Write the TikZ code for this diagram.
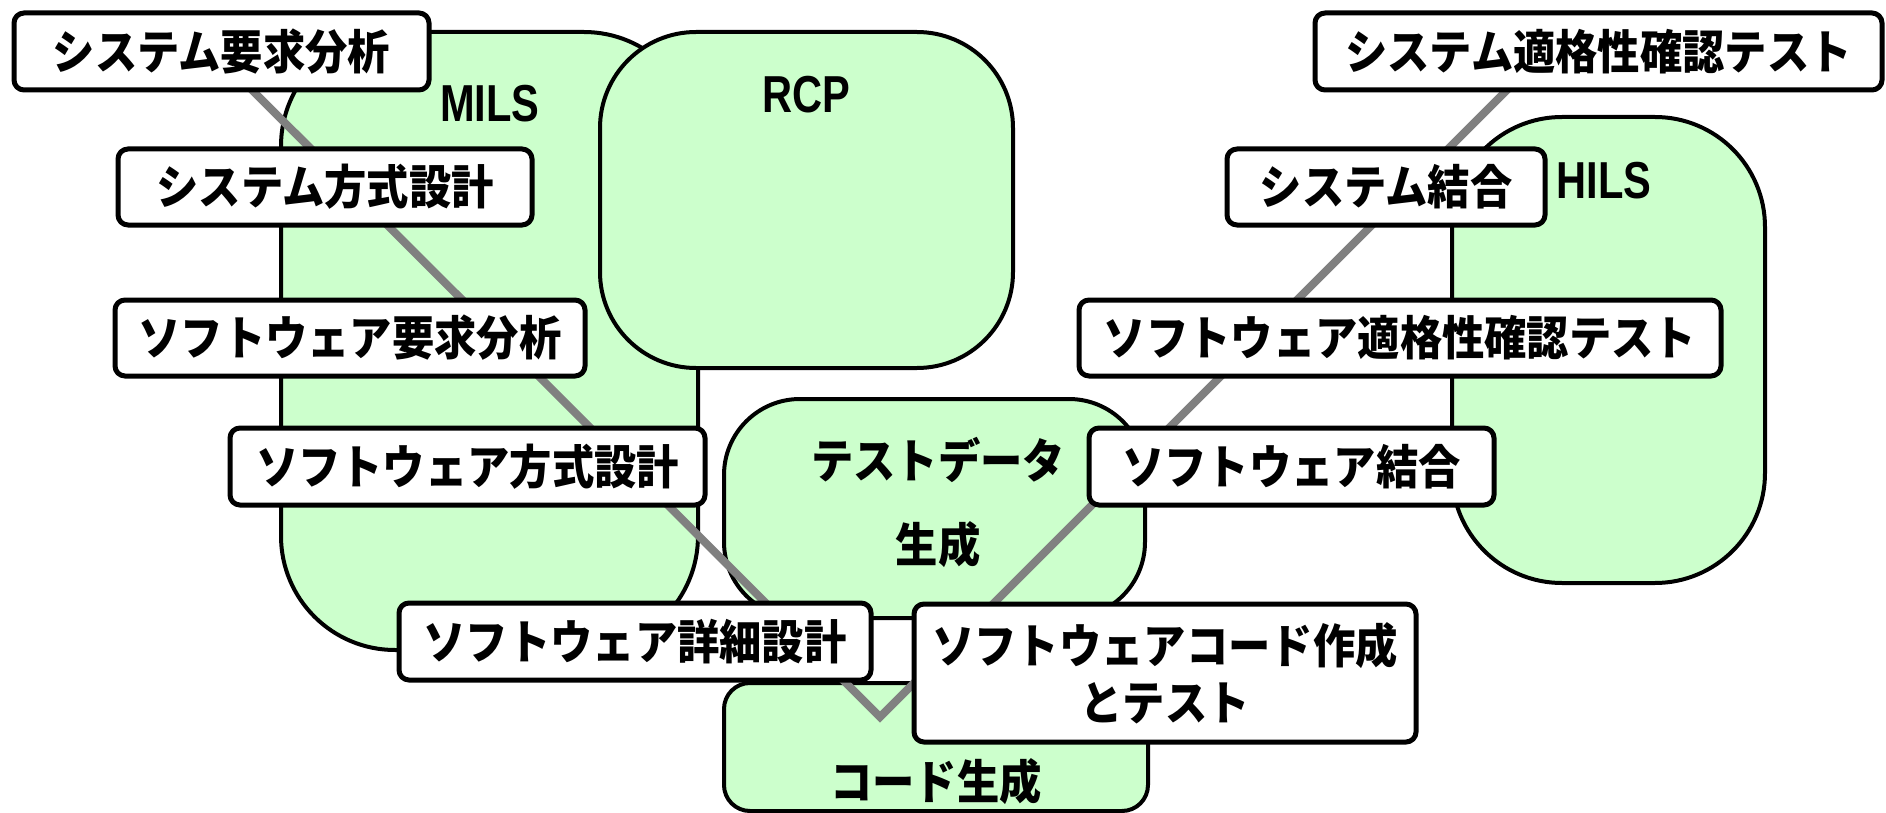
\documentclass[tikz,border=0pt]{standalone}
\usepackage{fontspec}
\newfontfamily\jp{Noto Sans CJK JP}[FakeStretch=0.9]
\newfontfamily\lat{Liberation Sans}[FakeStretch=0.8]
\definecolor{lg}{HTML}{CCFFCC}
\definecolor{vgray}{HTML}{808080}
\begin{document}
\begin{tikzpicture}[x=0.5pt,y=-0.5pt,
  grn/.style={draw=black,line width=2pt,fill=lg,inner sep=0pt},
  lbl/.style={draw=black,line width=2.5pt,fill=white,rounded corners=5pt,inner sep=0pt,
    font=\jp\bfseries\fontsize{23.5}{28.5}\selectfont,align=center},
  gtxt/.style={font=\jp\bfseries\fontsize{23.5}{42}\selectfont,align=center,inner sep=0pt},
  ltxt/.style={font=\lat\bfseries\fontsize{26}{30}\selectfont,inner sep=0pt},
  vline/.style={draw=vgray,line width=4pt}]
\useasboundingbox (0,0) rectangle (1886,813);
% green areas
\node[grn,rounded corners=57pt,minimum width=208.5pt,minimum height=309pt] (mils) at (489.5,341) {};
\node[grn,rounded corners=48pt,minimum width=206.5pt,minimum height=168pt] (rcp) at (806.5,200) {};
\node[grn,rounded corners=38pt,minimum width=210.5pt,minimum height=109.5pt] (tdg) at (934.5,508.5) {};
\node[grn,rounded corners=13pt,minimum width=212pt,minimum height=64pt] (cg) at (936,747) {};
\node[grn,rounded corners=55pt,minimum width=156.5pt,minimum height=233pt] (hils) at (1608.5,350) {};
% texts of green areas
\node[ltxt] (milsT) at (490,104) {MILS};
\node[ltxt] (rcpT) at (806,95) {RCP};
\node[ltxt] (hilsT) at (1604,181) {HILS};
\node[gtxt] (tdgT) at (938,502) {テストデータ\\生成};
\node[gtxt] (cgT) at (936,782) {コード生成};
% V line
\coordinate (vL) at (237,75);
\coordinate (vB) at (880,717);
\coordinate (vR) at (1522,75);
\draw[vline] (vL) -- (vB) -- (vR);
% labels
\node[lbl,minimum width=207.5pt,minimum height=38.5pt] (sysreq) at (221.5,51.5) {システム要求分析};
\node[lbl,minimum width=207pt,minimum height=38pt] (sysarch) at (325,187) {システム方式設計};
\node[lbl,minimum width=235pt,minimum height=38pt] (swreq) at (350,338) {ソフトウェア要求分析};
\node[lbl,minimum width=237.5pt,minimum height=38.5pt] (swarch) at (467.5,466.5) {ソフトウェア方式設計};
\node[lbl,minimum width=236pt,minimum height=38.5pt] (swdet) at (635,641.5) {ソフトウェア詳細設計};
\node[lbl,minimum width=251pt,minimum height=69pt] (swcode) at (1165,673) {ソフトウェアコード作成\\とテスト};
\node[lbl,minimum width=202.5pt,minimum height=38.5pt] (swint) at (1291.5,466.5) {ソフトウェア結合};
\node[lbl,minimum width=321pt,minimum height=38pt] (swqual) at (1400,338) {ソフトウェア適格性確認テスト};
\node[lbl,minimum width=159pt,minimum height=38pt] (sysint) at (1386,187) {システム結合};
\node[lbl,minimum width=283.5pt,minimum height=38.5pt] (sysqual) at (1598.5,51.5) {システム適格性確認テスト};
\end{tikzpicture}
\end{document}
